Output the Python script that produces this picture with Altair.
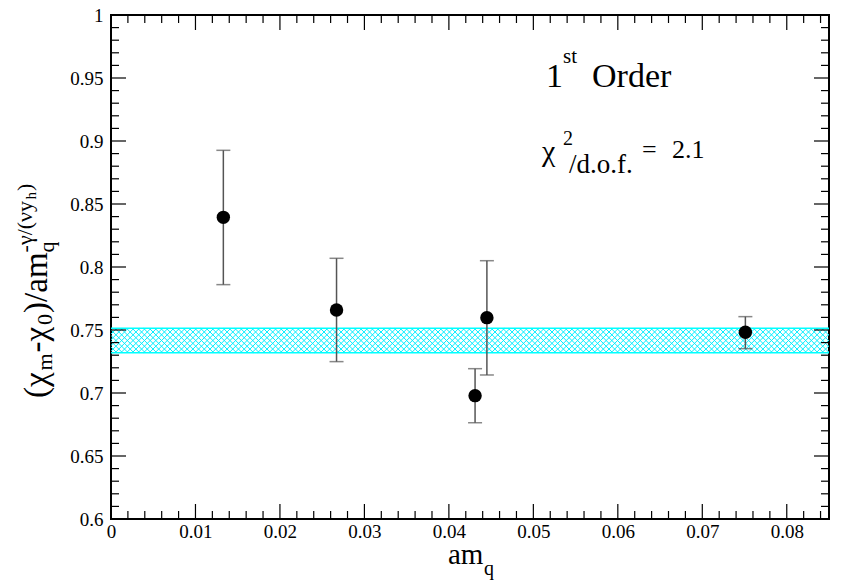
import altair as alt
import pandas as pd
import numpy as np

# ---- data ----
am_q = [0.0133, 0.0267, 0.0431, 0.0445, 0.0751]
ratio = [0.8394, 0.7659, 0.6979, 0.7598, 0.7482]
err_hi = [0.8926, 0.8069, 0.7193, 0.8050, 0.7606]
err_lo = [0.7860, 0.7249, 0.6764, 0.7143, 0.7352]
band_lo = 0.7320
band_hi = 0.7513

x_major = [0, 0.01, 0.02, 0.03, 0.04, 0.05, 0.06, 0.07, 0.08]
x_minor = [round(0.002 * i, 3) for i in range(43) if i % 5 != 0]
y_major = [0.6, 0.65, 0.7, 0.75, 0.8, 0.85, 0.9, 0.95, 1.0]
y_minor = [round(0.6 + 0.01 * i, 2) for i in range(41) if i % 5 != 0]

X_DOM = [0, 0.085]
Y_DOM = [0.6, 1.0]
W, H = 718, 504
FONT = "Liberation Serif, Times New Roman, serif"

xs = alt.Scale(domain=X_DOM, nice=False, zero=False)
ys = alt.Scale(domain=Y_DOM, nice=False, zero=False)

pts = pd.DataFrame({"x": am_q, "y": ratio, "hi": err_hi, "lo": err_lo})

# cross-hatch decoration of the fit band
band_h_px = (band_hi - band_lo) / (Y_DOM[1] - Y_DOM[0]) * H
dx = band_h_px / W * (X_DOM[1] - X_DOM[0])
step = 5.7 / W * (X_DOM[1] - X_DOM[0])
starts = np.arange(-dx - step, X_DOM[1] + step, step)
hatch = pd.DataFrame({
    "x": list(starts) + list(starts + dx),
    "x2": list(starts + dx) + list(starts),
    "y": [band_lo] * len(starts) * 2,
    "y2": [band_hi] * len(starts) * 2,
})

base_x = alt.X("x:Q", scale=xs, title=None,
               axis=alt.Axis(values=x_major, format=".2~f", ticks=False, domain=False,
                             grid=False, labelFont=FONT, labelFontSize=19,
                             labelPadding=3, labelColor="black", labelFlush=False))
base_y = alt.Y("y:Q", scale=ys, title=None,
               axis=alt.Axis(values=y_major, format=".2~f", ticks=False, domain=False,
                             grid=False, labelFont=FONT, labelFontSize=19,
                             labelPadding=8, labelColor="black", labelFlush=False))

hatch_layer = alt.Chart(hatch).mark_rule(color="#00eeff", strokeWidth=1, clip=True).encode(
    x=alt.X("x:Q", scale=xs), x2="x2:Q", y=alt.Y("y:Q", scale=ys), y2="y2:Q")

band_lines = alt.Chart(pd.DataFrame({"y": [band_lo, band_hi]})).mark_rule(
    color="#00ffff", strokeWidth=1.5).encode(y=alt.Y("y:Q", scale=ys), x=alt.value(0), x2=alt.value(W))

err_rule = alt.Chart(pts).mark_rule(color="#555555", strokeWidth=1.5).encode(
    x=base_x, y=alt.Y("lo:Q", scale=ys), y2="hi:Q")
cap_hi = alt.Chart(pts).mark_tick(color="#555555", orient="horizontal", size=14, thickness=1.5).encode(
    x=alt.X("x:Q", scale=xs), y=alt.Y("hi:Q", scale=ys))
cap_lo = alt.Chart(pts).mark_tick(color="#555555", orient="horizontal", size=14, thickness=1.5).encode(
    x=alt.X("x:Q", scale=xs), y=alt.Y("lo:Q", scale=ys))
points = alt.Chart(pts).mark_point(filled=True, color="black", size=180, opacity=1).encode(
    x=alt.X("x:Q", scale=xs), y=base_y)

# inward ticks on all four sides
def xticks(vals, length):
    d = pd.DataFrame({"x": vals})
    b = alt.Chart(d).mark_rule(color="black", strokeWidth=1.2).encode(
        x=alt.X("x:Q", scale=xs), y=alt.value(H), y2=alt.value(H - length))
    t = alt.Chart(d).mark_rule(color="black", strokeWidth=1.2).encode(
        x=alt.X("x:Q", scale=xs), y=alt.value(0), y2=alt.value(length))
    return [b, t]

def yticks(vals, length):
    d = pd.DataFrame({"y": vals})
    l = alt.Chart(d).mark_rule(color="black", strokeWidth=1.2).encode(
        y=alt.Y("y:Q", scale=ys), x=alt.value(0), x2=alt.value(length))
    r = alt.Chart(d).mark_rule(color="black", strokeWidth=1.2).encode(
        y=alt.Y("y:Q", scale=ys), x=alt.value(W), x2=alt.value(W - length))
    return [l, r]

tick_layers = xticks(x_major, 15) + xticks(x_minor, 8) + yticks(y_major, 15) + yticks(y_minor, 8)

one = alt.Data(values=[{"a": 1}])

def txt(s, x, y, size, angle=0):
    kw = dict(text=s, font=FONT, fontSize=size, color="black", align="left", baseline="alphabetic")
    if angle:
        kw["angle"] = angle
    return alt.Chart(one).mark_text(**kw).encode(x=alt.value(x), y=alt.value(y))

# approximate advance widths (em) for laying out the rotated y title pieces
EM = {"(": 0.333, ")": 0.333, "-": 0.333, "/": 0.278, "a": 0.444, "m": 0.778,
      "0": 0.5, "q": 0.5, "y": 0.5, "h": 0.5, "\u03c7": 0.5, "\u03b3": 0.45, "\u03bd": 0.47}

def wid(s, size):
    return sum(EM.get(c, 0.5) for c in s) * size

MAIN, SUB = 33, 22
ytitle = []
pos = 398 - 15  # start (bottom) in plot coordinates
for s, size, bx, gap in [("(\u03c7", MAIN, -64, 0), ("m", SUB, -59, 1), ("-\u03c7", MAIN, -64, 0),
                         ("0", SUB, -59, 1), (")/am", MAIN, -64, 0)]:
    ytitle.append(txt(s, bx, pos, size, 270))
    pos -= wid(s, size) + gap
ytitle.append(txt("q", -57, pos, SUB, 270))
sup_start = pos
ytitle.append(txt("-\u03b3/(\u03bdy", -79, sup_start, SUB, 270))
pos = sup_start - wid("-\u03b3/(\u03bdy", SUB) - 1
ytitle.append(txt("h", -75, pos, 15, 270))
pos -= wid("h", 15) + 1
ytitle.append(txt(")", -79, pos, SUB, 270))

texts = [
    txt("1", 435, 72, 34), txt("st", 452, 48, 21), txt("Order", 481, 72, 34),
    txt("\u03c7", 431, 146, 30), txt("2", 452, 130, 20), txt("/d.o.f.", 458, 158, 27),
    txt("=", 531, 143, 26), txt("2.1", 561, 143, 26),
    # x title
    txt("am", 337, 549, 29), txt("q", 373, 560, 20),
] + ytitle

axes_layer = alt.Chart(pts).mark_point(opacity=0).encode(x=base_x, y=base_y)

chart = alt.layer(
    axes_layer, hatch_layer, band_lines, err_rule, cap_hi, cap_lo, points, *tick_layers, *texts
).properties(
    width=W, height=H,
    autosize=alt.AutoSizeParams(type="none"),
    padding={"left": 111, "top": 15, "right": 14, "bottom": 62},
    background="white",
).configure_view(stroke="black", strokeWidth=2)

chart.save("out.html", embed_options={"renderer": "svg", "actions": False})
